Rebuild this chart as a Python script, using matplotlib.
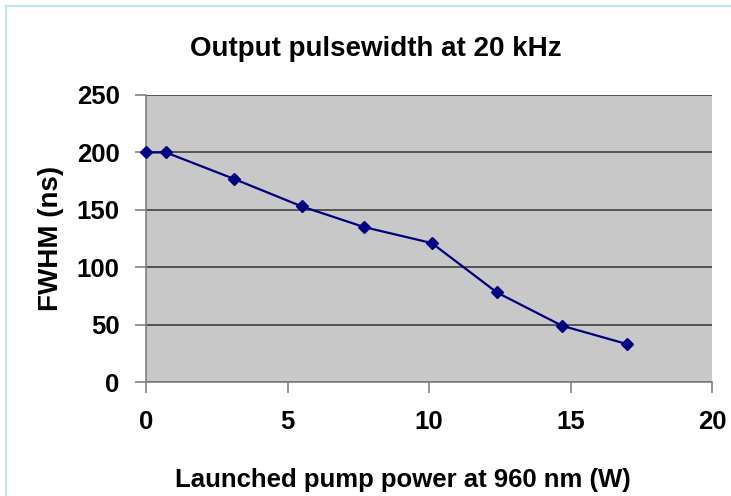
import matplotlib.pyplot as plt
from matplotlib.patches import Rectangle

# pump power (W) and output pulse FWHM (ns)
power = [0, 0.7, 3.1, 5.5, 7.7, 10.1, 12.4, 14.7, 17.0]
fwhm = [200, 200, 177, 153, 135, 121, 78, 49, 33]

xticks = [0, 5, 10, 15, 20]
yticks = [0, 50, 100, 150, 200, 250]

plt.rcParams['font.family'] = ['Liberation Sans', 'DejaVu Sans']

fig = plt.figure(figsize=(7.31, 4.96), dpi=100)
ax = fig.add_axes([146/731, 1 - 382/496, (712-146)/731, (382-95)/496])

# light blue frame round the chart
fig.patches.append(Rectangle((6/731, -0.1), 1.2, 1 - 6/496 + 0.1, transform=fig.transFigure,
                             fill=False, edgecolor='#bfe6ee', linewidth=1.5))

ax.set_facecolor('#c8c8c8')
ax.plot(power, fwhm, '-D', color='#000080', markersize=6, linewidth=1.6, clip_on=False, zorder=3)

ax.set_xlim(0, 20)
ax.set_ylim(0, 250)
ax.set_xticks(xticks)
ax.set_yticks(yticks)
ax.grid(axis='y', color='#404040', linewidth=1.2)
ax.set_axisbelow(True)

for s in ['top', 'right']:
    ax.spines[s].set_visible(False)
for s in ['left', 'bottom']:
    ax.spines[s].set_color('#808080')
    ax.spines[s].set_linewidth(1.2)

ax.tick_params(direction='out', length=8, width=1.2, color='#808080', labelsize=18.5)
ax.tick_params(axis='x', pad=12)
ax.tick_params(axis='y', pad=11)
for lab in ax.get_xticklabels() + ax.get_yticklabels():
    lab.set_fontweight('bold')

ax.set_title('Output pulsewidth at 20 kHz', fontsize=20, fontweight='bold', pad=28, x=0.406)
ax.set_xlabel('Launched pump power at 960 nm (W)', fontsize=18.5, fontweight='bold', labelpad=25, x=0.454)
ax.set_ylabel('FWHM (ns)', fontsize=20, fontweight='bold', labelpad=9)

fig.savefig('out.png', dpi=100)
